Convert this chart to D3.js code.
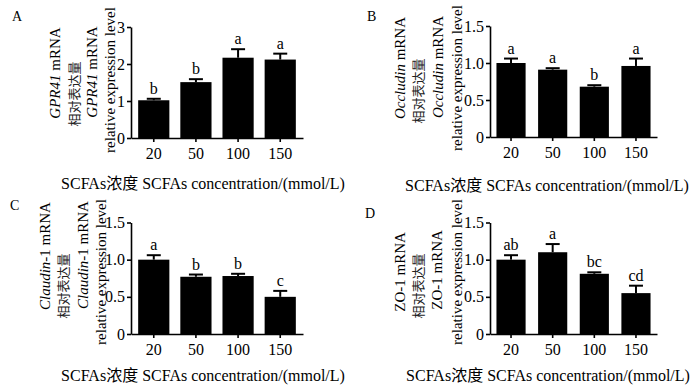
<!DOCTYPE html>
<html>
<head>
<meta charset="utf-8">
<style>
body{margin:0;background:#fff;}
svg{display:block;}
text{font-family:"Liberation Serif","Noto Sans CJK SC",serif;fill:#000;}
.axis path,.axis line{stroke:#000;stroke-width:1.6;fill:none;}
.axis text{font-size:16px;}
.bar{fill:#000;}
.err{stroke:#000;stroke-width:2;fill:none;}
.sig{font-size:16px;}
.ylab{font-size:15px;}
.cjk{font-size:13px;fill:#222;}
.xtitle{font-size:16px;}
.plabel{font-size:14px;}
</style>
</head>
<body>
<svg id="chart" width="700" height="389"></svg>
<script src="https://cdn.jsdelivr.net/npm/d3@7"></script>
<script>

// data
var doses = ["20", "50", "100", "150"];

var gpr41Mean = [1.02, 1.51, 2.17, 2.12];
var gpr41Err  = [0.04, 0.08, 0.23, 0.16];
var gpr41Sig  = ["b", "b", "a", "a"];

var occludinMean = [1.00, 0.91, 0.68, 0.96];
var occludinErr  = [0.06, 0.02, 0.02, 0.10];
var occludinSig  = ["a", "a", "b", "a"];

var claudinMean = [1.00, 0.77, 0.78, 0.50];
var claudinErr  = [0.06, 0.03, 0.03, 0.08];
var claudinSig  = ["a", "b", "b", "c"];

var zo1Mean = [1.00, 1.10, 0.81, 0.55];
var zo1Err  = [0.06, 0.11, 0.02, 0.10];
var zo1Sig  = ["ab", "a", "bc", "cd"];

var gprTicks = [0, 1, 2, 3];
var tjTicks  = [0, 0.5, 1.0, 1.5];

var xTitle = "SCFAs浓度 SCFAs concentration/(mmol/L)";
var cnLabel = "相对表达量";
var enLabel = "relative expression level";

var svg = d3.select("#chart");

function buildPanel(p){
  var g = svg.append("g");

  var x = d3.scaleBand().domain(doses).range([p.x0, p.x1])
      .paddingInner(p.pi).paddingOuter(p.po);
  var y = d3.scaleLinear().domain([0, d3.max(p.ticks)]).range([p.yb, p.yt]);

  var rows = doses.map(function(d, i){
    return {dose: d, mean: p.mean[i], err: p.err[i], sig: p.sig[i]};
  });

  // bars
  g.selectAll(".bar").data(rows).enter().append("rect")
    .attr("class", "bar")
    .attr("x", function(d){ return x(d.dose); })
    .attr("width", x.bandwidth())
    .attr("y", function(d){ return y(d.mean); })
    .attr("height", function(d){ return y(0) - y(d.mean); });

  // upper error bars
  var cx = function(d){ return x(d.dose) + x.bandwidth() / 2; };
  g.selectAll(".errv").data(rows).enter().append("line")
    .attr("class", "err")
    .attr("x1", cx).attr("x2", cx)
    .attr("y1", function(d){ return y(d.mean); })
    .attr("y2", function(d){ return y(d.mean + d.err); });
  g.selectAll(".errc").data(rows).enter().append("line")
    .attr("class", "err")
    .attr("x1", function(d){ return cx(d) - 7; })
    .attr("x2", function(d){ return cx(d) + 7; })
    .attr("y1", function(d){ return y(d.mean + d.err); })
    .attr("y2", function(d){ return y(d.mean + d.err); });

  // significance letters
  g.selectAll(".sig").data(rows).enter().append("text")
    .attr("class", "sig")
    .attr("text-anchor", "middle")
    .attr("x", cx)
    .attr("y", function(d){ return y(d.mean + d.err) - 5; })
    .text(function(d){ return d.sig; });

  // axes
  g.append("g").attr("class", "axis")
    .attr("transform", "translate(" + p.x0 + ",0)")
    .call(d3.axisLeft(y).tickValues(p.ticks).tickFormat(p.fmt).tickSize(4).tickSizeOuter(0).tickPadding(2));

  g.append("g").attr("class", "axis")
    .attr("transform", "translate(0," + p.yb + ")")
    .call(d3.axisBottom(x).tickSize(4).tickSizeOuter(0).tickPadding(6));

  // y title, four rotated lines
  p.lab.forEach(function(l){
    var t = g.append("text")
      .attr("class", l.cls)
      .attr("text-anchor", "middle")
      .attr("transform", "translate(" + l.x + "," + l.y + ") rotate(-90)");
    if (l.parts) {
      l.parts.forEach(function(s){
        t.append("tspan").attr("font-style", s[1] ? "italic" : null).text(s[0]);
      });
    } else {
      t.text(l.text);
    }
  });

  g.append("text").attr("class", "xtitle")
    .attr("text-anchor", "middle")
    .attr("x", p.tx).attr("y", p.ty)
    .text(xTitle);

  g.append("text").attr("class", "plabel")
    .attr("x", p.lx).attr("y", p.ly)
    .text(p.letter);
}

function labLines(parts, xs, ys){
  return [
    {cls: "ylab", parts: parts, x: xs[0], y: ys[0]},
    {cls: "cjk", text: cnLabel, x: xs[1], y: ys[1]},
    {cls: "ylab", parts: parts, x: xs[2], y: ys[2]},
    {cls: "ylab", text: enLabel, x: xs[3], y: ys[3]}
  ];
}

var tjFmt = function(d){ return d === 0 ? "0" : d3.format(".1f")(d); };
var gprFmt = d3.format("d");

buildPanel({
  letter: "A", lx: 12, ly: 21,
  mean: gpr41Mean, err: gpr41Err, sig: gpr41Sig, ticks: gprTicks, fmt: gprFmt,
  x0: 131, x1: 303, pi: 0.26, po: 0.17, yb: 138, yt: 27,
  tx: 203, ty: 189,
  lab: labLines([["GPR41", true], [" mRNA", false]], [60, 79, 97, 115], [73, 94, 72, 80])
});

buildPanel({
  letter: "B", lx: 367, ly: 21,
  mean: occludinMean, err: occludinErr, sig: occludinSig, ticks: tjTicks, fmt: tjFmt,
  x0: 490, x1: 657, pi: 0.3, po: 0.155, yb: 137, yt: 26,
  tx: 547, ty: 191,
  lab: labLines([["Occludin", true], [" mRNA", false]], [405, 423, 443, 462], [68, 91, 67, 78])
});

buildPanel({
  letter: "C", lx: 10, ly: 210,
  mean: claudinMean, err: claudinErr, sig: claudinSig, ticks: tjTicks, fmt: tjFmt,
  x0: 131, x1: 303, pi: 0.26, po: 0.17, yb: 334, yt: 222.5,
  tx: 203, ty: 381,
  lab: labLines([["Claudin", true], ["-1 mRNA", false]], [50, 68, 88, 106], [256, 286, 255, 272])
});

buildPanel({
  letter: "D", lx: 365, ly: 218,
  mean: zo1Mean, err: zo1Err, sig: zo1Sig, ticks: tjTicks, fmt: tjFmt,
  x0: 490, x1: 657, pi: 0.3, po: 0.155, yb: 334, yt: 222.5,
  tx: 548, ty: 381,
  lab: labLines([["ZO-1 mRNA", false]], [405, 423, 442, 462], [272, 286, 270, 272])
});

</script>
</body>
</html>
